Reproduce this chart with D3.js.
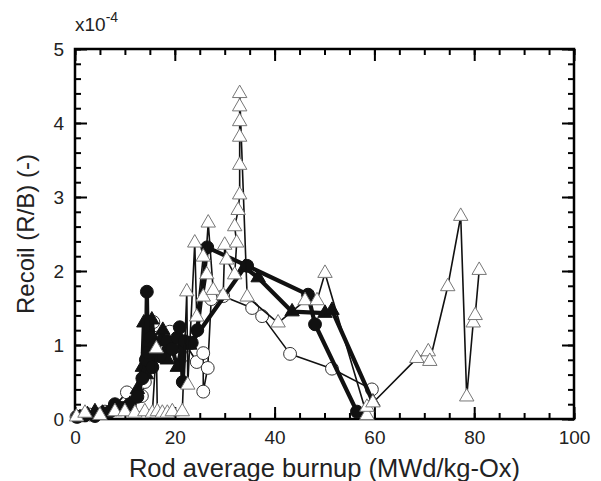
<!DOCTYPE html>
<html>
<head>
<meta charset="utf-8">
<script src="https://cdn.jsdelivr.net/npm/d3@7"></script>
<style>
  body { margin: 0; background: #fff; }
  text { font-family: "Liberation Sans", Arial, sans-serif; }
</style>
</head>
<body>
<div id="chart"></div>
<script>
// burnup (MWd/kg-Ox), recoil R/B in units of 1e-4
const filledCircles = [
  [0.5,0.03],[2,0.05],[4,0.04],[5.5,0.08],[7,0.1],[8,0.2],[9.5,0.15],[11,0.2],[12.5,0.3],
  [13.5,0.55],[14.2,0.8],[14.4,1.72],[14.6,0.9],[15.2,1.1],[15.5,0.7],[16,1.0],[17,0.85],
  [18.5,1.05],[19.5,0.95],[20.5,1.1],[21,1.24],[21.6,0.5],[22,1.05],[23.4,1.03],[24.5,1.2],
  [26.5,2.32],[34.5,2.07],[46.7,1.68],[48.1,1.28],[56.5,0.1]
];
const filledTriangles = [
  [1,0.02],[2.5,0.06],[4,0.1],[5.5,0.08],[7,0.1],[9,0.12],[11,0.2],[12.5,0.4],[13.5,0.7],
  [13.8,1.3],[14.3,0.6],[15,1.1],[15.4,1.34],[16,0.9],[17,1.05],[17.6,1.2],[18.5,0.8],
  [19.5,0.95],[20.5,0.7],[21.5,1.0],[23,1.0],[34,2.05],[36.7,1.91],[43.5,1.45],[50.1,1.43],
  [51.5,1.47],[59.7,0.23]
];
const openCircles = [
  [0.3,0.03],[3,0.06],[6,0.1],[8,0.18],[10.4,0.36],[13.4,0.31],[14,0.5],[14.8,0.95],
  [15.7,1.31],[16,0.9],[16.5,1.1],[17.2,0.85],[19,1.18],[19,0.84],[21.4,0.84],[22.3,1.0],
  [24.4,0.77],[25.7,0.89],[25.7,0.37],[26.6,0.69],[27.3,1.62],[29.7,1.66],[35.5,1.5],
  [37.5,1.39],[43.1,0.88],[51.5,0.68],[59.5,0.40]
];
const openTriangles = [
  [0.3,0.03],[2,0.08],[5,0.05],[8,0.1],[10,0.1],[12,0.08],[14,0.1],[15.5,0.08],[16.3,0.95],
  [16.5,0.1],[17.5,0.08],[18.5,0.08],[19.5,0.1],[21.5,0.1],[22.4,1.72],[22.6,0.46],
  [24,2.38],[24.4,1.38],[25.7,2.19],[26.4,1.95],[25.7,1.65],[26.7,2.65],[27.7,1.74],
  [29.7,1.67],[30,2.35],[30.4,2.15],[32,1.95],[32.4,2.38],[32,2.6],[32.7,2.82],[33,3.03],
  [33,3.43],[33,3.81],[33,4.02],[33,4.22],[33,4.40],[34.5,1.65],[40.7,1.3],[46.1,1.6],
  [48.5,1.6],[50.1,1.97],[58.5,0.05]
];
const openTriangles2 = [
  [58.5,0.16],[59.7,0.22],[68.5,0.82],[70.8,0.91],[71.1,0.78],[74.7,1.79],[77.3,2.74],
  [78.5,0.30],[79.8,1.30],[80.2,1.40],[81,2.01]
];
const xTicks = [0, 20, 40, 60, 80, 100];
const yTicks = [0, 1, 2, 3, 4, 5];

const width = 601, height = 481;
const margin = { top: 49, right: 27, bottom: 62, left: 75 };

const x = d3.scaleLinear().domain([0, 100]).range([margin.left, width - margin.right]);
const y = d3.scaleLinear().domain([0, 5]).range([height - margin.bottom, margin.top]);

const svg = d3.select("#chart")
  .append("svg")
  .attr("width", width)
  .attr("height", height);

const fontSize = 19;

// minor ticks
const xMinor = d3.range(0, 101, 5);
const yMinor = d3.range(0, 5.01, 0.2);

function axisGroup(axis, transform) {
  const g = svg.append("g").attr("transform", transform).call(axis);
  g.select(".domain").remove();
  g.selectAll(".tick line").attr("stroke", "#000").attr("stroke-width", 2);
  g.selectAll(".tick text").attr("font-size", fontSize).attr("fill", "#222")
    .style("font-family", "'Liberation Sans', Arial, sans-serif");
  return g;
}

axisGroup(d3.axisBottom(x).tickValues(xMinor).tickSize(-6).tickFormat(""), `translate(0,${y(0)})`);
axisGroup(d3.axisTop(x).tickValues(xMinor).tickSize(-6).tickFormat(""), `translate(0,${y(5)})`);
axisGroup(d3.axisLeft(y).tickValues(yMinor).tickSize(-6).tickFormat(""), `translate(${x(0)},0)`);
axisGroup(d3.axisRight(y).tickValues(yMinor).tickSize(-6).tickFormat(""), `translate(${x(100)},0)`);

axisGroup(d3.axisBottom(x).tickValues(xTicks).tickSize(-12).tickPadding(12), `translate(0,${y(0)})`);
axisGroup(d3.axisTop(x).tickValues(xTicks).tickSize(-12).tickFormat(""), `translate(0,${y(5)})`);
axisGroup(d3.axisLeft(y).tickValues(yTicks).tickSize(-12).tickPadding(11).tickFormat(d3.format("d")), `translate(${x(0)},0)`);
axisGroup(d3.axisRight(y).tickValues(yTicks).tickSize(-12).tickFormat(""), `translate(${x(100)},0)`);

// frame
svg.append("rect")
  .attr("x", x(0)).attr("y", y(5))
  .attr("width", x(100) - x(0)).attr("height", y(0) - y(5))
  .attr("fill", "none").attr("stroke", "#000").attr("stroke-width", 2.5);

const line = d3.line().x(d => x(d[0])).y(d => y(d[1]));
const plot = svg.append("g");

const triSym = d3.symbol().type(d3.symbolTriangle).size(90);
const circSym = d3.symbol().type(d3.symbolCircle).size(130);

function series(data, opts) {
  plot.append("path")
    .datum(data)
    .attr("d", line)
    .attr("fill", "none")
    .attr("stroke", "#111")
    .attr("stroke-width", opts.lw)
    .attr("stroke-linejoin", "round");
  plot.append("g")
    .selectAll("path")
    .data(data)
    .join("path")
    .attr("transform", d => `translate(${x(d[0])},${y(d[1])})`)
    .attr("d", opts.sym)
    .attr("fill", opts.fill)
    .attr("stroke", opts.stroke)
    .attr("stroke-width", 1);
}

series(openCircles, { lw: 1.6, sym: circSym, fill: "#fff", stroke: "#333" });
series(filledTriangles, { lw: 4.2, sym: triSym, fill: "#111", stroke: "#111" });
series(filledCircles, { lw: 4.2, sym: circSym, fill: "#111", stroke: "#111" });
series(openTriangles, { lw: 1.6, sym: triSym, fill: "#fff", stroke: "#777" });
series(openTriangles2, { lw: 1.6, sym: triSym, fill: "#fff", stroke: "#777" });

// labels
svg.append("text")
  .attr("x", x(0)).attr("y", 31)
  .attr("font-size", fontSize).attr("fill", "#222")
  .text("x10")
  .append("tspan").attr("dy", -9).attr("font-size", 14).text("-4");

svg.append("text")
  .attr("x", (x(0) + x(100)) / 2).attr("y", 477)
  .attr("text-anchor", "middle")
  .attr("font-size", 25.5).attr("fill", "#222")
  .text("Rod average burnup (MWd/kg-Ox)");

svg.append("text")
  .attr("transform", `translate(34,${(y(0) + y(5)) / 2}) rotate(-90)`)
  .attr("text-anchor", "middle")
  .attr("font-size", 24).attr("fill", "#222")
  .text("Recoil (R/B) (-)");
</script>
</body>
</html>
